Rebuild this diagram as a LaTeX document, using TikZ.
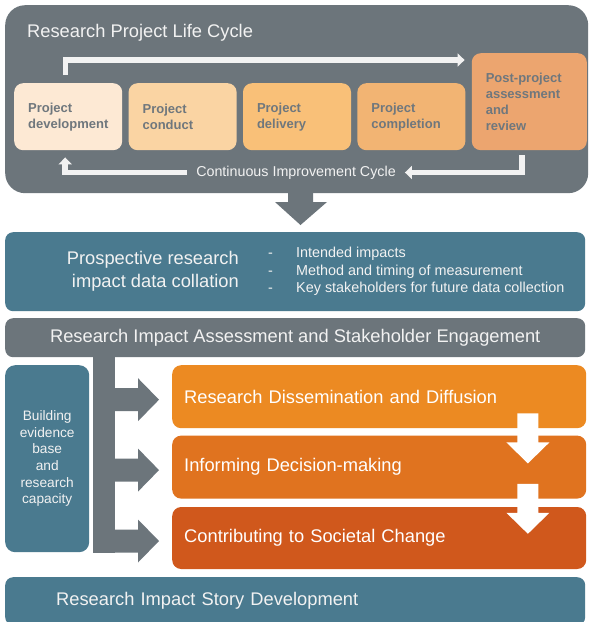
\documentclass[tikz,border=0pt]{standalone}
\usepackage{fontspec}
\setmainfont{Liberation Sans}
\usetikzlibrary{calc,positioning,arrows.meta}

\definecolor{slate}{HTML}{6C757B}
\definecolor{impactblue}{HTML}{4A7A8F}
\definecolor{paleline}{HTML}{F2F2F2}
\definecolor{boxtext}{HTML}{6F777D}
\definecolor{stageA}{HTML}{FDE9D4}
\definecolor{stageB}{HTML}{FAD4A3}
\definecolor{stageC}{HTML}{F9C078}
\definecolor{stageD}{HTML}{F2B473}
\definecolor{stageE}{HTML}{ECA56F}
\definecolor{outA}{HTML}{EC8A22}
\definecolor{outB}{HTML}{E0731F}
\definecolor{outC}{HTML}{D0581C}

\begin{document}
\begin{tikzpicture}[x=1pt, y=-1pt,
	stage/.style={anchor=north west, fill=#1, rounded corners=9pt, minimum height=67pt, inner xsep=14pt, text width=80pt, align=left, text=boxtext, font=\bfseries\fontsize{13}{16}\selectfont},
	band/.style={anchor=north west, fill=impactblue, rounded corners=8pt, minimum width=580pt, text=paleline, font=\fontsize{18.3}{23}\selectfont},
	outcome/.style={fill=#1, rounded corners=9pt, minimum height=63pt, inner xsep=12pt, text width=390pt, align=left, text=white, font=\fontsize{18.3}{22}\selectfont},
	cyclearrow/.style={draw=paleline, line width=5.5pt, -{Triangle[length=7pt,width=13pt]}}]
		%%%%% START %%%%%
		\useasboundingbox[fill=white] (0,0) rectangle (590,622);
		
		% life cycle frame
		\node[anchor=north west, fill=slate, rounded corners=20pt, minimum width=583pt, minimum height=188pt] (frame) at (5,5) {};
		\node[anchor=west, inner sep=0, text=paleline, font=\fontsize{18.3}{22}\selectfont] (title) at (27,33) {Research Project Life Cycle};
		
		\node[stage=stageA] (dev) at (14,83) {Project\\development};
		\node[stage=stageB, right=6pt of dev] (con) {Project\\conduct};
		\node[stage=stageC, right=6pt of con] (del) {Project\\delivery};
		\node[stage=stageD, right=6pt of del] (com) {Project\\completion};
		\node[stage=stageE, anchor=south west, minimum height=97pt, text width=87pt] (post) at ([xshift=6pt]com.south east) {Post-project\\assessment\\and\\review};
		
		\draw[cyclearrow] ($(dev.north)+(-2.5,-8)$) |- ($(post.north west)+(-7,7)$);
		\node[inner xsep=9pt, inner ysep=0, text=paleline, font=\fontsize{14.3}{17}\selectfont] (cic) at (296,172.5) {Continuous Improvement Cycle};
		\draw[cyclearrow] ($(post.south)+(-7.5,5)$) |- (cic.east);
		\draw[cyclearrow] (cic.west) -| ($(dev.south)+(-3,7)$);
		
		% down to collation
		\fill[slate] (288,190) -- (313,190) -- (313,202) -- (327,202) -- (300.5,225) -- (275,202) -- (288,202) -- cycle;
		
		\node[band, minimum height=79pt] (prosp) at (5,232) {};
		\node[anchor=east, inner sep=0, align=right, text=paleline, font=\fontsize{18.3}{23}\selectfont] (ptitle) at ($(prosp.west)+(234,0)$) {Prospective research\\impact data collation};
		\node[anchor=west, inner sep=0, align=left, text=paleline, font=\fontsize{14.4}{17.5}\selectfont] (plist) at ($(prosp.west)+(263,0)$) {\makebox[28pt][l]{-}Intended impacts\\\makebox[28pt][l]{-}Method and timing of measurement\\\makebox[28pt][l]{-}Key stakeholders for future data collection};
		
		\node[band, fill=slate, minimum height=39pt] (eng) at (5,318) {Research Impact Assessment and Stakeholder Engagement};
		
		% evidence base and outcomes
		\node[anchor=north west, fill=impactblue, rounded corners=10pt, minimum width=84pt, minimum height=187pt, inner xsep=4pt, text width=76pt, align=center, text=paleline, font=\fontsize{13.7}{16.6}\selectfont] (ev) at (5,365) {Building\\evidence\\base\\and\\research\\capacity};
		
		\node[outcome=outA, anchor=north west] (dis) at (172,365) {Research Dissemination and Diffusion};
		\node[outcome=outB, below=7pt of dis] (inf) {Informing Decision-making};
		\node[outcome=outC, below=8pt of inf, minimum height=62pt] (soc) {Contributing to Societal Change};
		
		\fill[slate] (eng.south west) ++(88,-2) rectangle ($(soc.west)+(-57,15)$);
		\foreach \n in {dis,inf,soc}
			\fill[slate] ($(\n.west)+(-58,-8.5)$) -- ++(24,0) -- ++(0,-10) -- ++(21,21.5) -- ++(-21,21.5) -- ++(0,-10) -- ++(-24,0) -- cycle;
		
		\foreach \a in {dis,inf}
			\fill[white] ($(\a.south east)+(-69,-15)$) -- ++(21,0) -- ++(0,29) -- ++(11,0) -- ++(-21.5,21) -- ++(-21.5,-21) -- ++(11,0) -- cycle;
		
		\node[band, minimum height=48pt, inner xsep=51pt, text width=478pt, align=left] (story) at (5,577) {Research Impact Story Development};
		
		%%%%% END %%%%%
	\end{tikzpicture}
\end{document}
